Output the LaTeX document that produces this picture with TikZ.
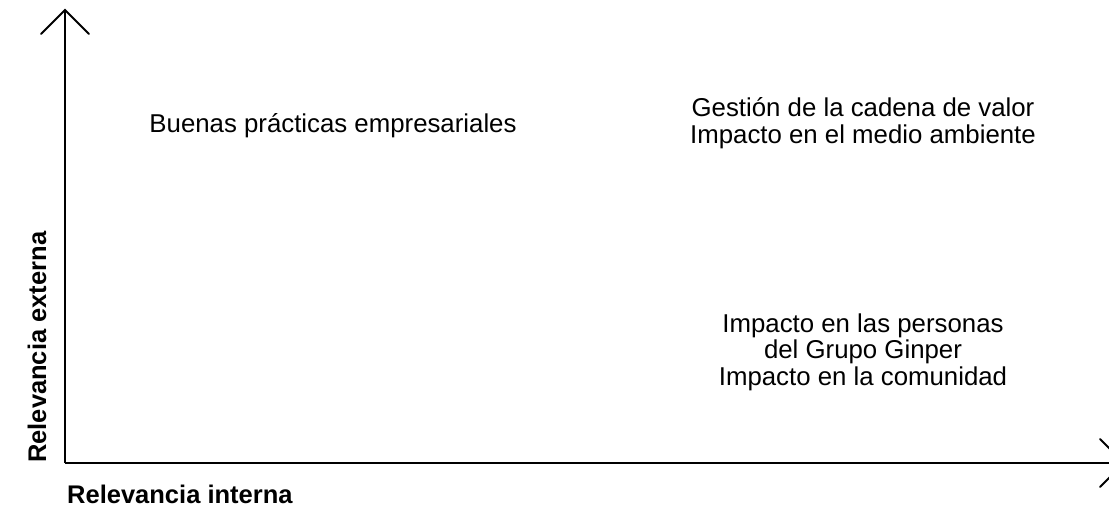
\documentclass[tikz,border=0pt]{standalone}
\usepackage{fontspec}
\setmainfont{Liberation Sans}
\begin{document}
\begin{tikzpicture}[x=1pt,y=-1pt,
  axis/.style={line width=2pt,black},
  lbl/.style={font=\fontsize{25.8}{26.5}\selectfont, align=center, inner sep=0pt},
  axlbl/.style={font=\fontsize{25.5}{26}\selectfont\bfseries, inner sep=0pt}]
\useasboundingbox (0,0) rectangle (1109,511);
\coordinate (O) at (65,463);
\coordinate (T) at (65,10);
\coordinate (R) at (1124,463);
\draw[axis] (O) -- (T);
\draw[axis] (O) -- (R);
\draw[axis, line cap=round] (41,34) -- (T) -- (89,34);
\draw[axis, line cap=round] (1100,439) -- (R) -- (1100,487);
\node[lbl] (bp) at (333,126) {Buenas prácticas empresariales};
\node[lbl] (gc) at (863,123) {Gestión de la cadena de valor\\Impacto en el medio ambiente};
\node[lbl] (ip) at (863,352) {Impacto en las personas\\del Grupo Ginper\\Impacto en la comunidad};
\node[axlbl, anchor=west] (ri) at (67,494) {Relevancia interna};
\node[axlbl, rotate=90, anchor=west] (re) at (37,463) {Relevancia externa};
\end{tikzpicture}
\end{document}
